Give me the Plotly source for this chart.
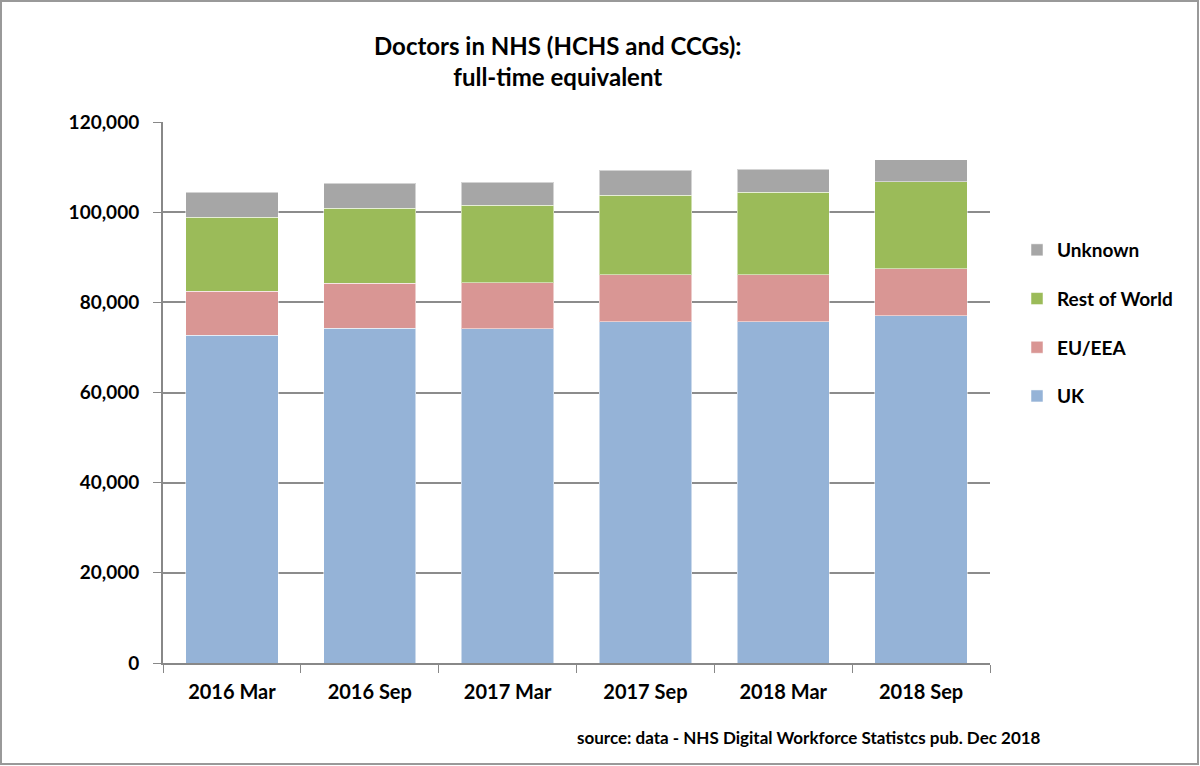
import plotly.graph_objects as go

categories = ["2016 Mar", "2016 Sep", "2017 Mar", "2017 Sep", "2018 Mar", "2018 Sep"]
uk = [72700, 74250, 74100, 75700, 75700, 77000]
eu_eea = [9750, 9950, 10200, 10400, 10400, 10400]
rest_of_world = [16450, 16700, 17200, 17700, 18300, 19400]
unknown = [5500, 5500, 5100, 5500, 5100, 4800]

series_names = ["UK", "EU/EEA", "Rest of World", "Unknown"]
series_values = [uk, eu_eea, rest_of_world, unknown]
colors = ["#95B3D7", "#D99694", "#9BBB59", "#A6A6A6"]
legend_ranks = [4, 3, 2, 1]

FONT = "Lato"

fig = go.Figure()
for name, vals, col, rk in zip(series_names, series_values, colors, legend_ranks):
    fig.add_trace(go.Bar(
        x=categories, y=vals, name=name, legendgroup=name, legendrank=rk,
        marker=dict(color=col, line=dict(color="rgba(255,255,255,0.5)", width=1)),
    ))

L, R, T, B = 163, 210, 122, 103
W, H = 1200, 766
pw, ph = W - L - R, H - T - B

fig.update_layout(
    width=W, height=H,
    barmode="stack", bargap=0.33,
    paper_bgcolor="white", plot_bgcolor="white",
    margin=dict(l=L, r=R, t=T, b=B, autoexpand=False),
    font=dict(family=FONT, color="black"),
    showlegend=True,
    legend=dict(
        traceorder="grouped", tracegroupgap=21,
        x=(1017 - L) / pw, xanchor="left",
        y=(H - B - 231) / ph, yanchor="top",
        font=dict(size=19, family=FONT, weight="bold"),
        itemwidth=30, bgcolor="rgba(0,0,0,0)",
    ),
    xaxis=dict(
        showline=True, linecolor="#888888", linewidth=2,
        ticks="outside", tickson="boundaries", ticklen=8, tickcolor="#888888", tickwidth=1,
        tickfont=dict(size=20, family=FONT, weight="bold"),
        ticklabelstandoff=10,
        showgrid=False,
    ),
    yaxis=dict(
        range=[0, 120000], dtick=20000, tickformat=",d",
        showline=True, linecolor="#888888", linewidth=2,
        ticks="outside", ticklen=8, tickcolor="#888888",
        showgrid=True, gridcolor="#8c8c8c", gridwidth=1.5,
        tickfont=dict(size=19, family=FONT, weight="bold"),
        ticklabelstandoff=10,
        zeroline=False,
    ),
    annotations=[
        dict(text="Doctors in NHS (HCHS and CCGs):<br>full-time equivalent",
             xref="paper", yref="paper",
             x=(558 - L) / pw, y=(H - B - 61) / ph,
             xanchor="center", yanchor="middle", showarrow=False,
             font=dict(size=24, family=FONT, weight="bold"), align="center"),
        dict(text="source: data - NHS Digital Workforce Statistcs pub. Dec 2018",
             xref="paper", yref="paper",
             x=(1043 - L) / pw, y=(H - B - 737) / ph,
             xanchor="right", yanchor="middle", showarrow=False,
             font=dict(size=17, family=FONT, weight="bold")),
    ],
    shapes=[dict(type="rect", xref="paper", yref="paper",
                 x0=(1 - L) / pw, x1=(W - 2 - L) / pw,
                 y0=(H - B - (H - 2)) / ph, y1=(H - B - 1) / ph,
                 line=dict(color="#999999", width=2), fillcolor="rgba(0,0,0,0)", layer="below")],
)

fig.write_html("out.html", config={"displayModeBar": False},
               post_script="document.body.style.margin='0';document.body.style.overflow='hidden';")
